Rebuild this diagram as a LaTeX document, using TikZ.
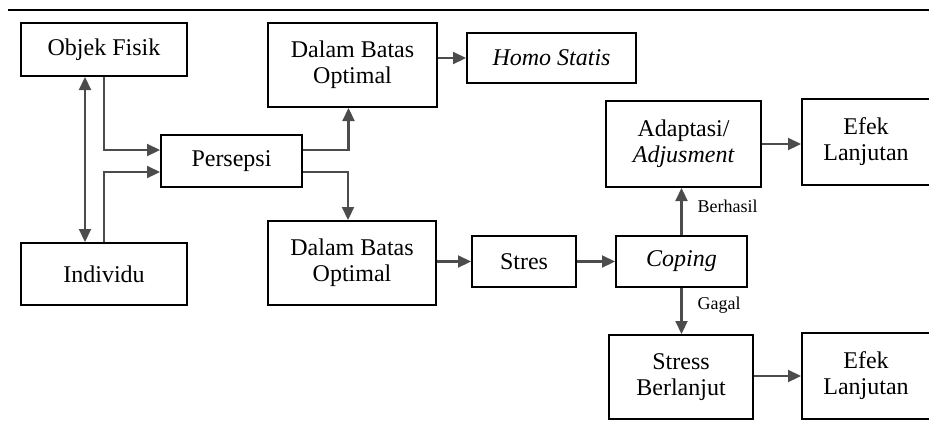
\documentclass[tikz,border=0pt]{standalone}
\usepackage{fontspec}
\setmainfont{Liberation Serif}
\usetikzlibrary{arrows.meta,positioning}

\begin{document}
\begin{tikzpicture}[x=1pt,y=-1pt,
  box/.style={draw,line width=2pt,align=center,inner sep=0pt,
    font=\fontsize{24}{26}\selectfont},
  arr/.style={line width=2.2pt,draw=black!70,-{Triangle[length=13pt,width=12pt]}},
  arrs/.style={line width=2.2pt,draw=black!70,
    {Triangle[length=13pt,width=12pt]}-{Triangle[length=13pt,width=12pt]}},
  lbl/.style={font=\fontsize{18}{20}\selectfont,anchor=west,inner sep=0pt}]
\useasboundingbox (0,0) rectangle (929,421);
\clip (0,0) rectangle (929,421);
\draw[line width=2.2pt] (8,10) -- (929,10);
% left column
\node[box,minimum width=166pt,minimum height=53pt] (obj) at (104,49.5) {Objek Fisik};
\node[box,minimum width=166pt,minimum height=62pt] (ind) at (104,274) {Individu};
\node[box,minimum width=141pt,minimum height=52pt] (per) at (231.5,161) {Persepsi};
% middle
\node[box,minimum width=169pt,minimum height=84pt] (dbo1) at (352.5,65) {Dalam Batas\\Optimal};
\node[box,minimum width=168pt,minimum height=84pt] (dbo2) at (352,263) {Dalam Batas\\Optimal};
\node[box,minimum width=169pt,minimum height=50pt] (homo) at (551.5,58) {\itshape Homo Statis};
\node[box,minimum width=104pt,minimum height=51pt] (stres) at (524,261.5) {Stres};
\node[box,minimum width=131pt,minimum height=51pt] (cop) at (681.5,261.5) {\itshape Coping};
% right
\node[box,minimum width=155pt,minimum height=86pt] (adp) at (683.5,144) {Adaptasi/\\\itshape Adjusment};
\node[box,minimum width=128pt,minimum height=86pt] (ef1) at (866,142) {Efek\\Lanjutan};
\node[box,minimum width=144pt,minimum height=84pt] (sb) at (681,377) {Stress\\Berlanjut};
\node[box,minimum width=128pt,minimum height=86pt] (ef2) at (866,376) {Efek\\Lanjutan};

\draw[arrs] ([xshift=-19pt]ind.north) -- ([xshift=-19pt]obj.south);
\draw[arr] (obj.south) |- ([yshift=11pt]per.west);
\draw[arr] (ind.north) |- ([yshift=-11pt]per.west);
\draw[arr] ([yshift=11pt]per.east) -| ([xshift=-4pt]dbo1.south);
\draw[arr] ([yshift=-11pt]per.east) -| ([xshift=-4pt]dbo2.north);
\draw[arr] (dbo1.east |- homo.west) -- (homo.west);
\draw[arr] (dbo2.east |- stres.west) -- (stres.west);
\draw[arr] (stres.east) -- (cop.west);
\draw[arr] (cop.north) -- node[lbl,pos=0.6,xshift=15pt] {Berhasil} (cop.north |- adp.south);
\draw[arr] (cop.south) -- node[lbl,pos=0.37,xshift=15pt] {Gagal} (cop.south |- sb.north);
\draw[arr] (adp.east) -- (adp.east -| ef1.west);
\draw[arr] (sb.east |- ef2.west) -- (ef2.west);
\end{tikzpicture}
\end{document}
